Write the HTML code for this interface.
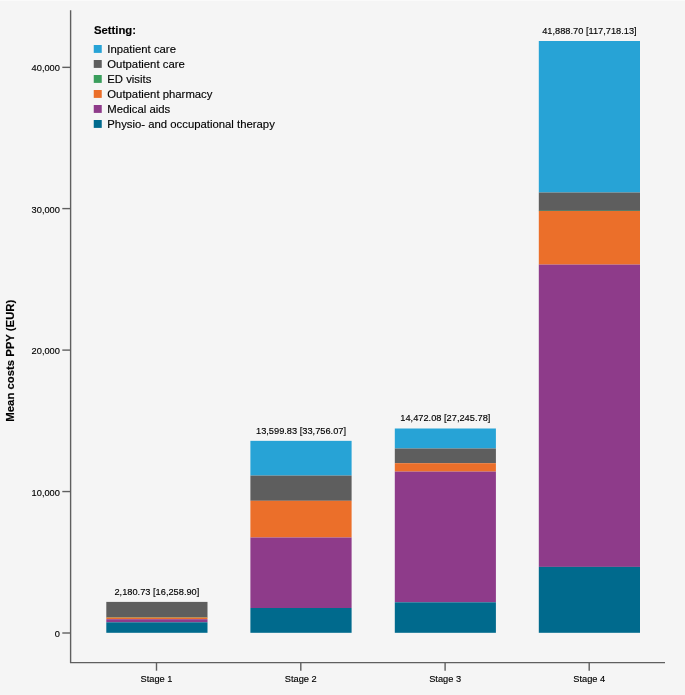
<!DOCTYPE html>
<html lang="en"><head><meta charset="utf-8"><title>Mean costs PPY by stage</title>
<style>
html,body{margin:0;padding:0;background:#f5f5f5;}
body{width:685px;height:695px;overflow:hidden;}
svg{display:block;will-change:transform;transform:translateZ(0);font-family:"Liberation Sans",Arial,Helvetica,sans-serif;}
.t9{font-size:9.25px;fill:#000000;stroke:#000000;stroke-width:0.14px;}
.t11{font-size:11.34px;fill:#000000;stroke:#000000;stroke-width:0.14px;}
.b{font-weight:bold;}
</style></head><body>
<svg width="685" height="695" viewBox="0 0 685 695">
<rect x="0" y="0" width="685" height="695" fill="#f5f5f5"/>
<rect x="0" y="0" width="685" height="1" fill="#fafafa"/>

<rect x="106.3" y="601.9" width="101.20" height="15.40" fill="#5e5e5e"/>
<rect x="106.3" y="617.1" width="101.20" height="0.50" fill="#3a9e5c"/>
<rect x="106.3" y="617.5" width="101.20" height="1.70" fill="#eb6f2a"/>
<rect x="106.3" y="619.2" width="101.20" height="3.10" fill="#8e3b8a"/>
<rect x="106.3" y="622.3" width="101.20" height="10.50" fill="#006a8d"/>
<text class="t9" x="156.90" y="594.70" text-anchor="middle">2,180.73 [16,258.90]</text>
<rect x="250.4" y="440.85" width="101.20" height="34.75" fill="#27a3d6"/>
<rect x="250.4" y="475.6" width="101.20" height="25.20" fill="#5e5e5e"/>
<rect x="250.4" y="500.8" width="101.20" height="36.70" fill="#eb6f2a"/>
<rect x="250.4" y="537.5" width="101.20" height="70.50" fill="#8e3b8a"/>
<rect x="250.4" y="608.0" width="101.20" height="24.80" fill="#006a8d"/>
<text class="t9" x="301.00" y="433.65" text-anchor="middle">13,599.83 [33,756.07]</text>
<rect x="394.8" y="428.5" width="101.10" height="20.00" fill="#27a3d6"/>
<rect x="394.8" y="448.5" width="101.10" height="14.70" fill="#5e5e5e"/>
<rect x="394.8" y="463.2" width="101.10" height="8.40" fill="#eb6f2a"/>
<rect x="394.8" y="471.6" width="101.10" height="130.70" fill="#8e3b8a"/>
<rect x="394.8" y="602.3" width="101.10" height="30.50" fill="#006a8d"/>
<text class="t9" x="445.35" y="421.30" text-anchor="middle">14,472.08 [27,245.78]</text>
<rect x="538.8" y="41.0" width="101.20" height="151.50" fill="#27a3d6"/>
<rect x="538.8" y="192.5" width="101.20" height="18.40" fill="#5e5e5e"/>
<rect x="538.8" y="210.7" width="101.20" height="0.40" fill="#3a9e5c"/>
<rect x="538.8" y="211.0" width="101.20" height="53.60" fill="#eb6f2a"/>
<rect x="538.8" y="264.6" width="101.20" height="302.30" fill="#8e3b8a"/>
<rect x="538.8" y="566.9" width="101.20" height="65.90" fill="#006a8d"/>
<text class="t9" x="589.40" y="33.80" text-anchor="middle">41,888.70 [117,718.13]</text>
<path d="M70.6 10.2V662.65H665" fill="none" stroke="#5f5f5f" stroke-width="1.4"/>
<path d="M156.5 662.65V670.7" stroke="#5f5f5f" stroke-width="1.4"/>
<path d="M300.8 662.65V670.7" stroke="#5f5f5f" stroke-width="1.4"/>
<path d="M445.1 662.65V670.7" stroke="#5f5f5f" stroke-width="1.4"/>
<path d="M589.2 662.65V670.7" stroke="#5f5f5f" stroke-width="1.4"/>
<text class="t9" x="156.5" y="681.7" text-anchor="middle">Stage 1</text>
<text class="t9" x="300.8" y="681.7" text-anchor="middle">Stage 2</text>
<text class="t9" x="445.1" y="681.7" text-anchor="middle">Stage 3</text>
<text class="t9" x="589.2" y="681.7" text-anchor="middle">Stage 4</text>
<path d="M62.3 633.0H70.6" stroke="#5f5f5f" stroke-width="1.4"/>
<text class="t9" x="59.9" y="637.05" text-anchor="end">0</text>
<path d="M62.3 491.55H70.6" stroke="#5f5f5f" stroke-width="1.4"/>
<text class="t9" x="59.9" y="495.60" text-anchor="end">10,000</text>
<path d="M62.3 350.1H70.6" stroke="#5f5f5f" stroke-width="1.4"/>
<text class="t9" x="59.9" y="354.15" text-anchor="end">20,000</text>
<path d="M62.3 208.6H70.6" stroke="#5f5f5f" stroke-width="1.4"/>
<text class="t9" x="59.9" y="212.65" text-anchor="end">30,000</text>
<path d="M62.3 67.35H70.6" stroke="#5f5f5f" stroke-width="1.4"/>
<text class="t9" x="59.9" y="71.40" text-anchor="end">40,000</text>
<text class="t11 b" transform="translate(13.7 360.7) rotate(-90)" text-anchor="middle">Mean costs PPY (EUR)</text>
<text class="t11 b" x="93.9" y="33.6">Setting:</text>
<rect x="93.75" y="45" width="8" height="7.9" fill="#27a3d6"/>
<text class="t11" x="107.3" y="52.8">Inpatient care</text>
<rect x="93.75" y="60" width="8" height="7.9" fill="#5e5e5e"/>
<text class="t11" x="107.3" y="67.8">Outpatient care</text>
<rect x="93.75" y="75" width="8" height="7.9" fill="#3a9e5c"/>
<text class="t11" x="107.3" y="82.8">ED visits</text>
<rect x="93.75" y="90" width="8" height="7.9" fill="#eb6f2a"/>
<text class="t11" x="107.3" y="97.8">Outpatient pharmacy</text>
<rect x="93.75" y="105" width="8" height="7.9" fill="#8e3b8a"/>
<text class="t11" x="107.3" y="112.8">Medical aids</text>
<rect x="93.75" y="120" width="8" height="7.9" fill="#006a8d"/>
<text class="t11" x="107.3" y="127.8">Physio- and occupational therapy</text>
</svg></body></html>
